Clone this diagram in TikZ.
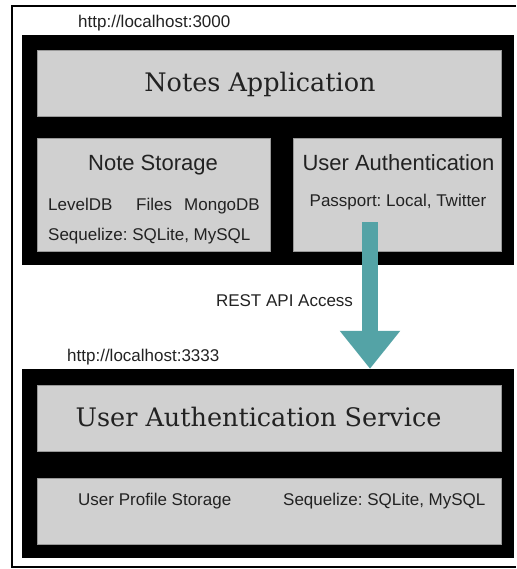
\documentclass[tikz,border=0pt]{standalone}
\usepackage{fontspec}
\setmainfont{Liberation Sans}
\newfontfamily\headfont{DejaVu Serif}
\usepackage{tikz}
\usetikzlibrary{arrows.meta, positioning}
\definecolor{panelgray}{RGB}{208,208,208}
\definecolor{textgray}{RGB}{34,34,34}
\definecolor{tealarrow}{RGB}{84,163,166}
\frenchspacing

\begin{document}
\begin{tikzpicture}[
  x=1pt, y=-1pt,
  frame/.style={fill=black, draw=none, minimum width=492pt, inner sep=0pt},
  panel/.style={fill=panelgray, draw=gray!80, line width=0.6pt, inner sep=0pt},
  small/.style={font=\fontsize{17}{20}\selectfont, text=textgray, inner sep=0pt},
  title/.style={font=\fontsize{22}{26}\selectfont, text=textgray, inner sep=0pt, anchor=base},
  heading/.style={font=\headfont\fontsize{25.5}{30}\selectfont, text=textgray, inner sep=0pt, anchor=base},
  restarrow/.style={-{Triangle[length=38pt, width=58pt]}, line width=16pt, draw=tealarrow}
]
  \useasboundingbox (0,0) rectangle (516,569);
  \draw[line width=2pt] (516,6) -- (12,6) -- (12,567) -- (516,567);

  % notes application on port 3000
  \node[small, anchor=base west] (url1) at (78,28) {http://localhost:3000};
  \node[frame, minimum height=230pt] (appframe) at (268,150) {};
  \node[panel, minimum width=464pt, minimum height=66pt] (notesapp) at (269,83) {};
  \node[heading] (notestitle) at (260,92) {Notes Application};
  \node[panel, minimum width=233pt, minimum height=113pt] (storage) at (153.5,194.5) {};
  \node[panel, minimum width=208pt, minimum height=113pt] (userauth) at (397,194.5) {};

  \node[title] (storagetitle) at (153,171) {Note Storage};
  \node[small, anchor=base west] (leveldb) at (48,211) {LevelDB};
  \node[small, anchor=base west] (files) at (136,211) {Files};
  \node[small, anchor=base west] (mongodb) at (184,211) {MongoDB};
  \node[small, anchor=base west] (sequelize1) at (48,240) {Sequelize: SQLite, MySQL};

  \node[title] (authtitle) at (398.5,171) {User Authentication};
  \node[small, anchor=base] (passport) at (398,207) {Passport: Local, Twitter};

  % user authentication service on port 3333
  \node[small, anchor=base west] (url2) at (67,361.5) {http://localhost:3333};
  \node[frame, minimum height=189pt] (svcframe) at (268,463.5) {};
  \node[panel, minimum width=464pt, minimum height=66pt] (svc) at (269,418) {};
  \node[heading] (svctitle) at (258.5,426.5) {User Authentication Service};
  \node[panel, minimum width=464pt, minimum height=66pt] (profile) at (269,511) {};
  \node[small, anchor=base west] (profilestore) at (78,505) {User Profile Storage};
  \node[small, anchor=base west] (sequelize2) at (283,505) {Sequelize: SQLite, MySQL};

  \coordinate (arrowstart) at (370,222);
  \draw[restarrow] (arrowstart) -- node[small, pos=0.578, anchor=base east, xshift=-9pt] (rest) {REST API Access} (arrowstart |- svcframe.north);
\end{tikzpicture}
\end{document}
